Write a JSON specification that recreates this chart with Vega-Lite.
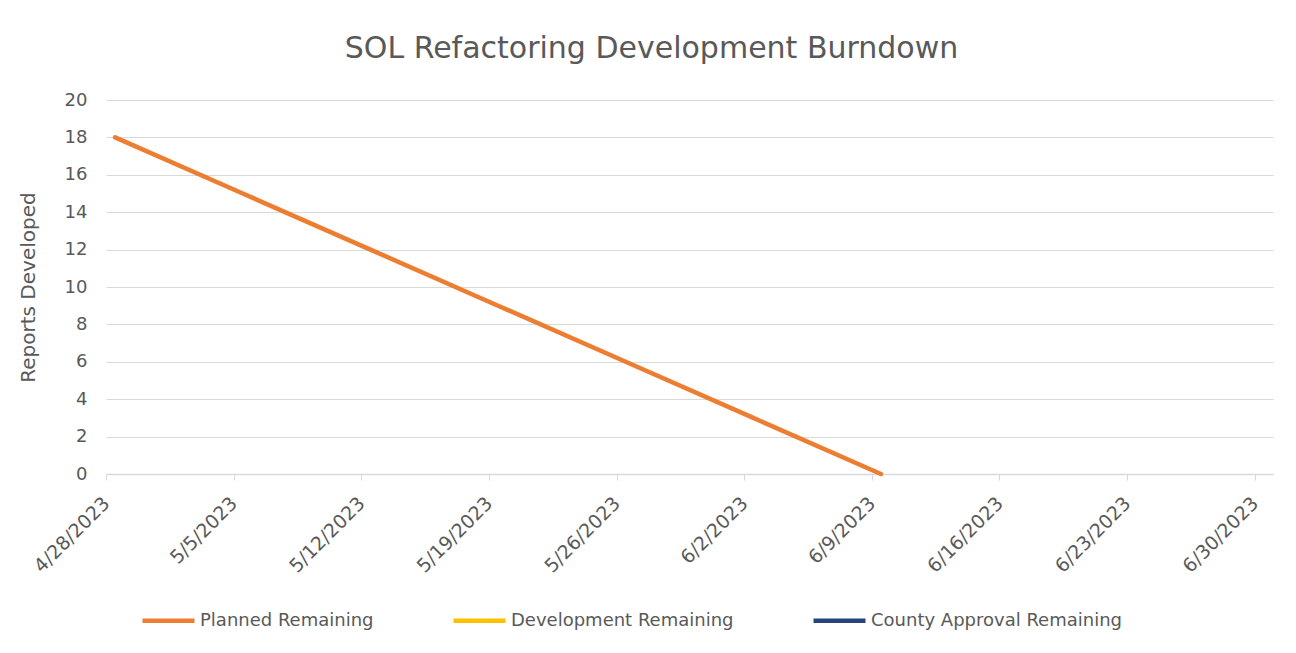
{
  "$schema": "https://vega.github.io/schema/vega-lite/v6.json",
  "autosize": {"type": "none"},
  "width": 1167,
  "height": 374,
  "padding": {"left": 106, "top": 100, "right": 23, "bottom": 179},
  "background": "white",
  "config": {
    "view": {"stroke": null},
    "font": "DejaVu Sans"
  },
  "title": {
    "text": "SOL Refactoring Development Burndown",
    "fontSize": 30,
    "fontWeight": "normal",
    "color": "#595959",
    "font": "DejaVu Sans",
    "anchor": "middle",
    "dx": -38,
    "offset": 27
  },
  "data": {
    "values": [
      {"series": "Planned Remaining", "date": "2023-04-28T12:00:00", "value": 18},
      {"series": "Planned Remaining", "date": "2023-05-05T12:00:00", "value": 15},
      {"series": "Planned Remaining", "date": "2023-05-12T12:00:00", "value": 12},
      {"series": "Planned Remaining", "date": "2023-05-19T12:00:00", "value": 9},
      {"series": "Planned Remaining", "date": "2023-05-26T12:00:00", "value": 6},
      {"series": "Planned Remaining", "date": "2023-06-02T12:00:00", "value": 3},
      {"series": "Planned Remaining", "date": "2023-06-09T12:00:00", "value": 0}
    ]
  },
  "mark": {"type": "line", "strokeWidth": 4.5, "strokeCap": "round"},
  "encoding": {
    "x": {
      "field": "date",
      "type": "temporal",
      "scale": {"domain": [{"year": 2023, "month": 4, "date": 28}, {"year": 2023, "month": 7, "date": 1}]},
      "axis": {
        "title": null,
        "values": [
          {"year": 2023, "month": 4, "date": 28},
          {"year": 2023, "month": 5, "date": 5},
          {"year": 2023, "month": 5, "date": 12},
          {"year": 2023, "month": 5, "date": 19},
          {"year": 2023, "month": 5, "date": 26},
          {"year": 2023, "month": 6, "date": 2},
          {"year": 2023, "month": 6, "date": 9},
          {"year": 2023, "month": 6, "date": 16},
          {"year": 2023, "month": 6, "date": 23},
          {"year": 2023, "month": 6, "date": 30}
        ],
        "format": "%-m/%-d/%Y",
        "labelAngle": -45,
        "labelAlign": "right",
        "labelBaseline": "middle",
        "labelFontSize": 19,
        "labelColor": "#595959",
        "labelPadding": 20,
        "labelDx": 15,
        "grid": false,
        "domainColor": "#D9D9D9",
        "domainWidth": 1.5,
        "tickColor": "#D9D9D9",
        "tickSize": 6,
        "labelOverlap": false,
        "labelFlush": false
      }
    },
    "y": {
      "field": "value",
      "type": "quantitative",
      "scale": {"domain": [0, 20]},
      "axis": {
        "title": "Reports Developed",
        "titleFontSize": 20,
        "titleFontWeight": "normal",
        "titleColor": "#595959",
        "titlePadding": 26,
        "values": [0, 2, 4, 6, 8, 10, 12, 14, 16, 18, 20],
        "labelFontSize": 18,
        "labelColor": "#595959",
        "labelPadding": 19,
        "domain": false,
        "ticks": false,
        "gridColor": "#D9D9D9",
        "gridWidth": 1.2
      }
    },
    "color": {
      "field": "series",
      "type": "nominal",
      "scale": {
        "domain": ["Planned Remaining", "Development Remaining", "County Approval Remaining"],
        "range": ["#ED7D31", "#FFC000", "#264478"]
      },
      "legend": {
        "title": null,
        "orient": "none",
        "legendX": 34,
        "legendY": 492,
        "direction": "horizontal",
        "symbolType": "stroke",
        "symbolSize": 2700,
        "symbolStrokeWidth": 4.5,
        "labelFontSize": 18,
        "labelLimit": 0,
        "labelColor": "#595959",
        "labelOffset": 3,
        "columnPadding": 70
      }
    }
  }
}
